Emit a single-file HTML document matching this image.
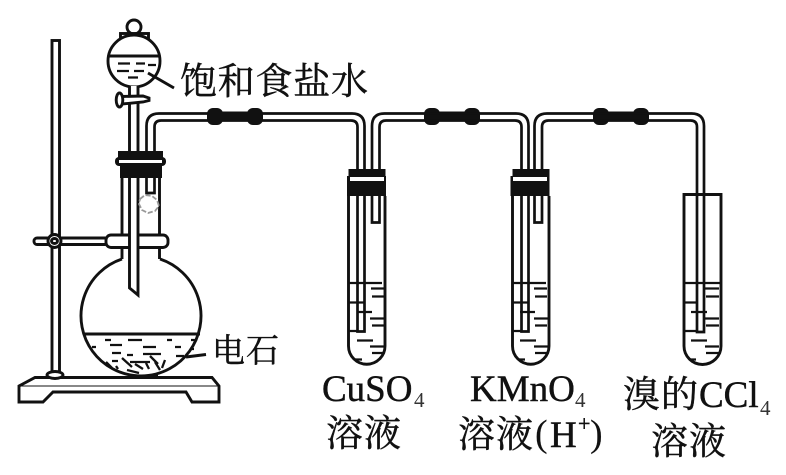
<!DOCTYPE html>
<html>
<head>
<meta charset="utf-8">
<style>
html,body{margin:0;padding:0;background:#fff;width:786px;height:475px;overflow:hidden}
svg{display:block}
text{fill:#111;stroke:#111;stroke-width:.45px;font-family:"Liberation Serif","Noto Serif CJK SC",serif}
.l{fill:none;stroke:#111;stroke-width:2.900}
.t{stroke:#111;stroke-width:2.700;fill:none}
.f{fill:#fff;stroke:#111;stroke-width:2.900}
.d{stroke:#111;stroke-width:2.300;fill:none}
.s{fill:#333;stroke:none;font-size:21px}
</style>
</head>
<body>
<svg width="786" height="475" viewBox="0 0 786 475" xmlns="http://www.w3.org/2000/svg">
<!-- stand -->
<rect x="52" y="40.500" width="7.500" height="336" class="f"/>
<path d="M35 377.500H212L219 386V402H192L186 392H53L43 402H19V386Z" class="f"/>
<line x1="20" y1="386" x2="218" y2="386" stroke="#111" stroke-width="1"/>
<ellipse cx="55" cy="375" rx="8" ry="3.500" class="f"/>
<!-- flask -->
<path d="M122 259V160M159.500 259V160" class="l"/>
<path d="M122 259A60 60 0 1 0 160 259" class="l"/>
<line x1="84" y1="334" x2="200" y2="334" class="l"/>
<path d="M105 340h6M128 340h14M167 340h5M191 340h5M92 347h4M110 345h12M143 347h13M175 347h6M190 349h4M112 353h9M143 354h18M176 356h8M112 361h6M127 355h6M122 358l10 9M135 364l8 5M150 356l8 8M155 362l5 8M165 360l-3 8M106 362l6 6M127 370l12 3M146 363l3 6M116 366l2 3M130 362h20M120 372l3 1" class="d"/>
<path d="M132 376.500h26" stroke="#111" stroke-width="4"/>
<path d="M186 357L206 354.500" class="l"/>
<!-- clamp -->
<rect x="34" y="238" width="74" height="6.500" rx="3" class="f"/>
<rect x="106" y="235" width="62" height="12.500" rx="5" class="f"/>
<circle cx="54.500" cy="241" r="6.500" class="f"/>
<ellipse cx="54.500" cy="241" rx="3" ry="2.500" class="l"/>
<!-- funnel -->
<circle cx="134" cy="27" r="7" class="f"/>
<rect x="120.500" y="33.500" width="28" height="6" class="f"/>
<circle cx="134" cy="61" r="26" class="f"/>
<line x1="109" y1="56" x2="159" y2="56" class="l"/>
<path d="M118 63.500h12M136 63.500h9M148 65h8M117 71h12M134 71h10M128 77.500h10" class="d"/>
<path d="M148 73L174 88" class="l"/>
<path d="M129.500 86V288L138 295V86" fill="#fff" stroke="#111" stroke-width="2.900"/>
<path d="M122 96.500L143 96L149 98V100.500L143 102L122 104Z" class="f"/>
<ellipse cx="119.500" cy="100" rx="3.300" ry="7" class="f"/>
<!-- flask stopper -->
<rect x="118" y="151" width="45" height="7" fill="#111"/>
<rect x="115" y="157" width="51" height="9" rx="4" fill="#111"/>
<rect x="119" y="160" width="43" height="3" fill="#fff"/>
<rect x="120" y="165" width="42" height="13" fill="#111"/>
<!-- tube 1 -->
<path d="M146.500 151V126Q146.500 113.500 159 113.500H352Q364.500 113.500 364.500 126V331.500H357.500V127Q357.500 120.500 351 120.500H161Q154.500 120.500 154.500 127V151" class="t"/>
<path d="M146.500 178V193H154.500V178" class="t"/>
<path d="M140 199l5-4 7 1 5 4 2 6-4 5-7 2-6-3-3-6Z" fill="#fff" stroke="#999" stroke-width="1.800" stroke-dasharray="5 2"/>
<!-- rubber -->
<g fill="#111">
<rect x="207" y="108" width="16" height="17" rx="6"/><rect x="247" y="108" width="16" height="17" rx="6"/><rect x="218" y="111.500" width="34" height="10"/>
<rect x="424" y="108" width="16" height="17" rx="6"/><rect x="464" y="108" width="16" height="17" rx="6"/><rect x="435" y="111.500" width="34" height="10"/>
<rect x="593" y="108" width="16" height="17" rx="6"/><rect x="633" y="108" width="16" height="17" rx="6"/><rect x="604" y="111.500" width="34" height="10"/>
</g>
<!-- tube 2 -->
<path d="M372 169V126Q372 113.500 384.500 113.500H516Q528.500 113.500 528.500 126V331.500H521.500V127Q521.500 120.500 515 120.500H386Q379.500 120.500 379.500 127V169" class="t"/>
<path d="M372 196V222.500H379.500V196" class="t"/>
<!-- tube 3 -->
<path d="M534.500 169V126Q534.500 113.500 547 113.500H691.500Q704 113.500 704 126V332H697V127Q697 120.500 690.500 120.500H548.500Q542 120.500 542 127V169" class="t"/>
<path d="M534.500 196V222.500H542V196" class="t"/>
<!-- test tubes -->
<path d="M348.500 196V346A18.250 18.250 0 0 0 385 346V196" class="l"/>
<path d="M512.500 196V346A18.250 18.250 0 0 0 549 346V196" class="l"/>
<path d="M684 194.500H721V346A18.500 18.500 0 0 1 684 346Z" class="l"/>
<!-- stoppers -->
<g fill="#111">
<rect x="348.500" y="169" width="37" height="7.500"/><rect x="347" y="176" width="39" height="20"/>
<rect x="512.500" y="169" width="37" height="7.500"/><rect x="510.500" y="176" width="39" height="20"/>
</g>
<rect x="350" y="177" width="34" height="4" fill="#fff"/>
<rect x="513" y="177" width="34" height="4" fill="#fff"/>
<!-- liquid -->
<g class="d">
<path d="M349 283h33M371 288.500h13M372 296.500h12M349 302.500h15M357 312h15M370 318.500h14M372 325.500h12M349 331h9M357 340.500h16M370 346.500h14M372 353h12M355 359.500h7"/>
<path d="M513 283h33M534 288.500h13M535 296.500h12M513 302.500h15M520 312h15M534 318.500h14M535 325.500h12M513 331h9M520 340.500h16M534 346.500h14M535 353h12M518 359.500h7"/>
<path d="M684 283h36M705 288.500h14M706 296.500h13M684 302.500h13M691 312h16M705 318.500h14M706 325.500h13M684 331h13M691 340.500h16M705 346.500h14M706 353h13M689 359.500h7"/>
</g>
<!-- labels -->
<text x="180" y="94" font-size="37" textLength="188" lengthAdjust="spacing">饱和食盐水</text>
<text x="212" y="362" font-size="33" textLength="67" lengthAdjust="spacing">电石</text>
<text x="322" y="401" font-size="37">CuSO</text>
<text x="414" y="407" class="s">4</text>
<text x="326" y="446" font-size="37" textLength="75" lengthAdjust="spacing">溶液</text>
<text x="470" y="401" font-size="37">KMnO</text>
<text x="575" y="407" class="s">4</text>
<text x="458" y="447" font-size="37" textLength="75" lengthAdjust="spacing">溶液</text>
<text x="535" y="446" style="font-size:38px;stroke-width:.1px">(</text>
<text x="550" y="447" font-size="37">H</text>
<text x="578" y="431" font-size="22">+</text>
<text x="590" y="446" style="font-size:38px;stroke-width:.1px">)</text>
<text x="623" y="407" font-size="37" textLength="75" lengthAdjust="spacing">溴的</text>
<text x="699" y="407" font-size="37">CCl</text>
<text x="760" y="415" class="s">4</text>
<text x="651" y="454" font-size="37" textLength="75" lengthAdjust="spacing">溶液</text>
</svg>
</body>
</html>
